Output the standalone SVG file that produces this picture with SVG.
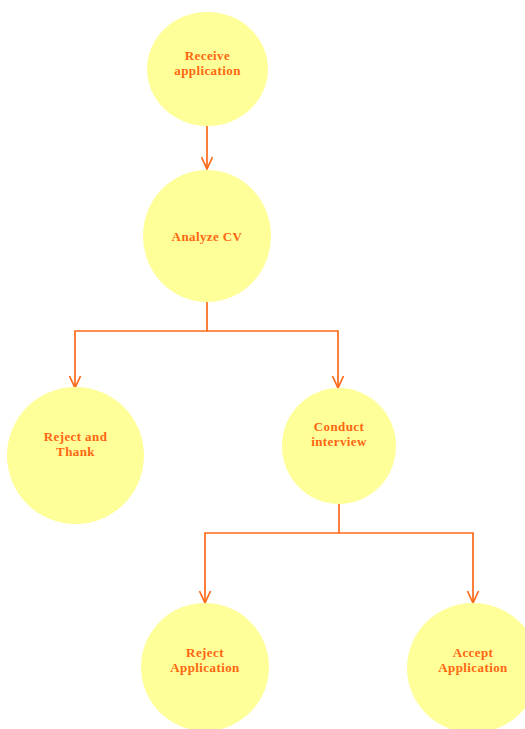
<svg xmlns="http://www.w3.org/2000/svg" width="525" height="729" viewBox="0 0 525 729">
<style>
.node{fill:#FFFF99;stroke:none}
.lbl{font-family:"Liberation Serif","Times New Roman",serif;font-weight:bold;font-size:13px;letter-spacing:0.4px;fill:#FF6611;text-anchor:middle}
.edge{fill:none;stroke:#FF6A1A;stroke-width:1.7}
</style>
<defs>
<marker id="arr" viewBox="0 0 14 14" refX="13" refY="7" markerWidth="14" markerHeight="14" markerUnits="userSpaceOnUse" orient="auto">
<path d="M1,1.5 L13,7 L1,12.5" fill="none" stroke="#FF6A1A" stroke-width="1.7"/>
</marker>
</defs>
<rect width="525" height="729" fill="#FFFFFF"/>
<g id="connectors">
<path class="edge" d="M207,126 V169" marker-end="url(#arr)"/>
<path class="edge" d="M207,302 V331 H75 V388" marker-end="url(#arr)"/>
<path class="edge" d="M207,331 H338 V388" marker-end="url(#arr)"/>
<path class="edge" d="M339,504 V533 H205 V603" marker-end="url(#arr)"/>
<path class="edge" d="M339,533 H473 V603" marker-end="url(#arr)"/>
</g>
<g id="receive">
<ellipse class="node" cx="207.5" cy="69" rx="60.5" ry="57"/>
<text class="lbl" x="207.5" y="60">Receive</text>
<text class="lbl" x="207.5" y="75">application</text>
</g>
<g id="analyze">
<ellipse class="node" cx="207" cy="236" rx="64" ry="66"/>
<text class="lbl" x="207" y="241">Analyze CV</text>
</g>
<g id="rejectThank">
<ellipse class="node" cx="75.5" cy="455.5" rx="68.5" ry="68.5"/>
<text class="lbl" x="75.5" y="441">Reject and</text>
<text class="lbl" x="75.5" y="456">Thank</text>
</g>
<g id="interview">
<ellipse class="node" cx="339" cy="446" rx="57" ry="58"/>
<text class="lbl" x="339" y="431">Conduct</text>
<text class="lbl" x="339" y="446">interview</text>
</g>
<g id="rejectApp">
<ellipse class="node" cx="205" cy="667" rx="64" ry="64"/>
<text class="lbl" x="205" y="657">Reject</text>
<text class="lbl" x="205" y="672">Application</text>
</g>
<g id="acceptApp">
<ellipse class="node" cx="473" cy="668" rx="66" ry="65"/>
<text class="lbl" x="473" y="657">Accept</text>
<text class="lbl" x="473" y="672">Application</text>
</g>
</svg>
